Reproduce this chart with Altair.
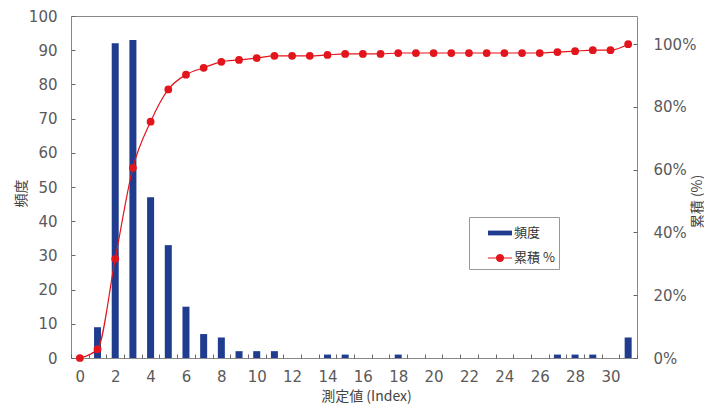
import altair as alt
import pandas as pd

# ---- data ----
index_values = list(range(32))
frequency = [0, 9, 92, 93, 47, 33, 15, 7, 6, 2, 2, 2, 0, 0, 1, 1, 0, 0, 1,
             0, 0, 0, 0, 0, 0, 0, 0, 1, 1, 1, 0, 6]
cumulative_pct = [0, 2.8, 31.6, 60.6, 75.3, 85.6, 90.3, 92.5, 94.4, 95.0,
                  95.6, 96.3, 96.3, 96.3, 96.6, 96.9, 96.9, 96.9, 97.2,
                  97.2, 97.2, 97.2, 97.2, 97.2, 97.2, 97.2, 97.2,
                  97.5, 97.8, 98.1, 98.1, 100]
series_names = ["頻度", "累積 %"]
left_ticks = [0, 10, 20, 30, 40, 50, 60, 70, 80, 90, 100]
right_ticks = [0, 0.2, 0.4, 0.6, 0.8, 1.0]

BLUE = "#1f3c8f"
RED = "#e3141b"
FONT = "Noto Sans CJK JP"
NUM_FONT = "DejaVu Sans"
LABEL_COLOR = "#5a5a5a"
TITLE_COLOR = "#444444"

df = pd.DataFrame({
    "idx": index_values,
    "freq": frequency,
    "cum": [v / 100 for v in cumulative_pct],
    "bar_series": series_names[0],
    "line_series": series_names[1],
})

color_scale = alt.Scale(domain=series_names, range=[BLUE, RED])

BAR_PATH = "M-1,-0.2H1V0.2H-1Z"
LINE_PATH = ("M-1,-0.045H1V0.045H-1Z"
             "M-0.34,0A0.34,0.34,0,1,1,0.34,0A0.34,0.34,0,1,1,-0.34,0Z")

legend = alt.Legend(
    orient="none", legendX=398, legendY=201, title=None,
    strokeColor="#999999", fillColor="white", padding=4,
    symbolOffset=15, rowPadding=6, symbolSize=576,
    symbolType=alt.ExprRef(
        expr="datum.value === '頻度' ? '" + BAR_PATH + "' : '" + LINE_PATH + "'"),
    symbolStrokeWidth=0, symbolOpacity=1,
    labelFont=FONT, labelFontSize=13, labelColor="#333333", labelOffset=2,
    labelExpr="datum.label + '" + "\u00a0" * 12 + "'",
)

x_enc = alt.X(
    "idx:O",
    scale=alt.Scale(paddingInner=0, paddingOuter=0),
    axis=alt.Axis(
        title="測定値 (Index)", labelAngle=0, offset=-4, tickSize=4,
        tickBand="extent", domain=False, tickColor="#666666",
        labelExpr="datum.value % 2 == 0 ? datum.label : ''",
        labelPadding=11, labelFont=NUM_FONT, labelFontSize=15,
        labelColor=LABEL_COLOR,
        titleFont=FONT, titleFontSize=14, titleFontWeight="normal",
        titleColor=TITLE_COLOR, titleX=295, titleY=42,
        titleBaseline="middle", titleAlign="center",
    ),
)

bars = alt.Chart(df).mark_bar(size=7).encode(
    x=x_enc,
    y=alt.Y(
        "freq:Q",
        scale=alt.Scale(domain=[0, 100], nice=False),
        axis=alt.Axis(
            orient="left", values=left_ticks, title="頻度", offset=-4,
            tickSize=4, domain=False, grid=False, tickColor="#666666",
            labelPadding=14, labelFont=NUM_FONT, labelFontSize=15,
            labelColor=LABEL_COLOR, titleFont=FONT, titleFontSize=14,
            titleFontWeight="normal", titleColor=TITLE_COLOR,
            titleAngle=270, titleX=-54, titleY=177,
            titleBaseline="middle", titleAlign="center",
        ),
    ),
    color=alt.Color("bar_series:N", scale=color_scale, legend=legend),
)

line = alt.Chart(df).mark_line(
    interpolate="monotone", strokeWidth=1.2,
    point=alt.OverlayMarkDef(filled=True, size=60, opacity=1),
).encode(
    x=x_enc,
    y=alt.Y(
        "cum:Q",
        scale=alt.Scale(domain=[0, 1.09], nice=False),
        axis=alt.Axis(
            orient="right", values=right_ticks, format="%", title="累積 (%)",
            offset=-4, tickSize=4, domain=False, grid=False,
            tickColor="#666666", labelPadding=16, labelFont=NUM_FONT,
            labelFontSize=15, labelColor=LABEL_COLOR, titleFont=FONT,
            titleFontSize=14, titleFontWeight="normal", titleColor=TITLE_COLOR,
            titleAngle=270, titleX=64, titleY=185,
            titleBaseline="middle", titleAlign="center",
        ),
    ),
    color=alt.Color("line_series:N", scale=color_scale, legend=legend),
)

chart = alt.layer(bars, line).resolve_scale(y="independent").properties(
    width=566, height=342,
    autosize=alt.AutoSizeParams(type="none"),
    padding={"left": 63, "top": 8, "right": 67, "bottom": 50},
).configure_view(stroke="#888888", strokeWidth=1)

chart.save("out.html", embed_options={"renderer": "svg", "actions": False})
